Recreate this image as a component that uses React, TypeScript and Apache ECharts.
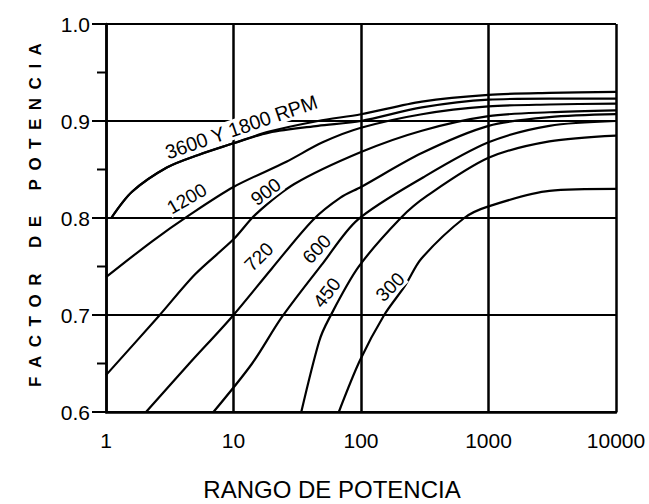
import React, { useEffect, useRef } from "react";
import * as echarts from "echarts";

// Power-factor curves: [power rating (HP), power factor]
const rpm3600 = [[1.1, 0.8], [1.6, 0.827], [3, 0.852], [5.3, 0.865], [10, 0.877], [19, 0.889], [46, 0.9], [100, 0.907], [300, 0.92], [1000, 0.927], [3000, 0.929], [10000, 0.93]];
const rpm1800 = [[1.1, 0.8], [1.6, 0.827], [3, 0.852], [5.3, 0.865], [10, 0.877], [19, 0.888], [46, 0.895], [100, 0.9], [300, 0.914], [1000, 0.922], [3000, 0.923], [10000, 0.923]];
const rpm1200 = [[1, 0.739], [2.3, 0.776], [4.5, 0.803], [10, 0.832], [26, 0.858], [50, 0.878], [100, 0.893], [300, 0.907], [1000, 0.915], [3000, 0.917], [10000, 0.918]];
const rpm900 = [[1, 0.638], [2.6, 0.699], [5, 0.742], [10, 0.778], [15, 0.804], [30, 0.835], [100, 0.868], [300, 0.89], [1000, 0.905], [3000, 0.909], [10000, 0.911]];
const rpm720 = [[2.06, 0.6], [4.5, 0.65], [9.7, 0.698], [20, 0.748], [42, 0.798], [69, 0.821], [100, 0.832], [300, 0.867], [1000, 0.895], [3000, 0.904], [10000, 0.907]];
const rpm600 = [[6.96, 0.6], [14, 0.65], [24, 0.698], [50, 0.753], [94, 0.798], [309, 0.842], [1000, 0.878], [3000, 0.895], [10000, 0.9]];
const rpm450 = [[34, 0.6], [47, 0.673], [56, 0.696], [95, 0.749], [205, 0.8], [331, 0.823], [1000, 0.862], [3000, 0.879], [10000, 0.885]];
const rpm300 = [[67, 0.6], [98, 0.653], [152, 0.7], [221, 0.73], [297, 0.758], [645, 0.8], [1000, 0.812], [3000, 0.828], [10000, 0.83]];

const curves = [rpm3600, rpm1800, rpm1200, rpm900, rpm720, rpm600, rpm450, rpm300];
const curveNames = ["3600", "1800", "1200", "900", "720", "600", "450", "300"];

const xTicks = [1, 10, 100, 1000, 10000];
const yMin = 0.6;
const yMax = 1.0;
const yMajorTicks = [0.6, 0.7, 0.8, 0.9, 1.0];
const yMinorTicks = [0.65, 0.75, 0.85, 0.95];

const labelTexts = ["3600 Y 1800 RPM", "1200", "900", "720", "600", "450", "300"];
const labelAnchors = [[11.5, 0.894], [4.3, 0.82], [17.9, 0.827], [15.8, 0.76], [45, 0.768], [54, 0.723], [169, 0.729]];
const labelAngles = [19, 30, 37, 45, 46, 52, 45];

export default function App() {
  const ref = useRef<HTMLDivElement>(null);
  useEffect(() => {
    document.body.style.margin = "0";
    const chart = echarts.init(ref.current!, null, { renderer: "svg" });
    const font = "'Liberation Sans', Arial, sans-serif";
    chart.setOption({
      animation: false,
      backgroundColor: "#fff",
      grid: { left: 106, right: 33, top: 24, bottom: 92, containLabel: false },
      xAxis: {
        type: "log",
        logBase: 10,
        min: xTicks[0],
        max: xTicks[xTicks.length - 1],
        axisLine: { show: true, lineStyle: { color: "#000", width: 2.5 } },
        axisTick: { show: false },
        splitLine: { show: true, lineStyle: { color: "#000", width: 2.5 } },
        axisLabel: {
          color: "#000",
          fontSize: 21,
          fontFamily: font,
          margin: 18,
          formatter: (v: number) => String(Math.round(v)),
        },
      },
      yAxis: {
        type: "value",
        min: yMin,
        max: yMax,
        interval: 0.1,
        axisLine: { show: true, lineStyle: { color: "#000", width: 2.5 } },
        axisTick: { show: false },
        splitLine: { show: true, lineStyle: { color: "#000", width: 2 } },
        axisLabel: {
          color: "#000",
          fontSize: 21,
          fontFamily: font,
          margin: 16,
          formatter: (v: number) => v.toFixed(1),
        },
      },
      series: curves.map((c, i) => ({
        name: curveNames[i],
        type: "line",
        data: c,
        showSymbol: false,
        smooth: 0.3,
        lineStyle: { color: "#000", width: 2.2 },
        z: 3,
      })),
    });

    const graphics: any[] = labelTexts.map((t, i) => {
      const p = chart.convertToPixel({ gridIndex: 0 }, labelAnchors[i]) as number[];
      return {
        type: "text",
        x: p[0],
        y: p[1],
        rotation: (labelAngles[i] * Math.PI) / 180,
        scaleX: i === 0 ? 0.98 : 1,
        z: 10,
        style: {
          text: t,
          font: `${i === 0 ? 20 : 19}px ${font}`,
          fill: "#000",
          textAlign: "center",
          textVerticalAlign: "middle",
          backgroundColor: "#fff",
          padding: [0, 1],
        },
      };
    });
    // y-axis ticks (outward, major and minor)
    const addTick = (v: number, len: number) => {
      const p = chart.convertToPixel({ gridIndex: 0 }, [1, v]) as number[];
      graphics.push({
        type: "line",
        z: 5,
        shape: { x1: p[0] - len, y1: p[1], x2: p[0], y2: p[1] },
        style: { stroke: "#000", lineWidth: 2 },
      });
    };
    yMajorTicks.forEach((v) => addTick(v, 14));
    yMinorTicks.forEach((v) => addTick(v, 9));

    graphics.push({
      type: "text",
      x: 35,
      y: 215,
      rotation: Math.PI / 2,
      z: 10,
      style: {
        text: "F\u2002A\u2002C\u2002T\u2002O\u2002R\u2003\u2002D\u2002E\u2003\u2002P\u2002O\u2002T\u2002E\u2002N\u2002C\u2002I\u2002A",
        font: `bold 17px ${font}`,
        fill: "#000",
        textAlign: "center",
        textVerticalAlign: "middle",
      },
    });
    graphics.push({
      type: "text",
      x: 332,
      y: 489,
      z: 10,
      style: {
        text: "RANGO DE POTENCIA",
        font: `24px ${font}`,
        fill: "#000",
        textAlign: "center",
        textVerticalAlign: "middle",
      },
    });
    chart.setOption({ graphic: graphics });
    return () => chart.dispose();
  }, []);
  return <div ref={ref} style={{ width: 649, height: 504 }} />;
}
